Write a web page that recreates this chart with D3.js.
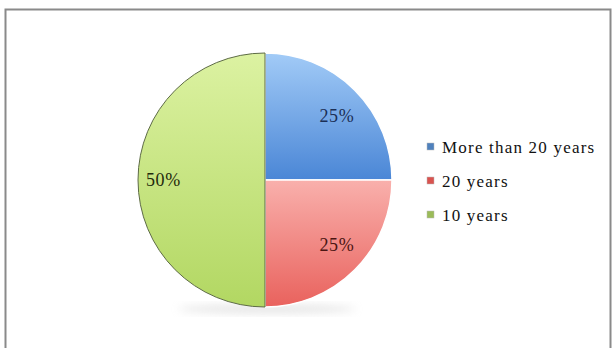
<!DOCTYPE html>
<html>
<head>
<meta charset="utf-8">
<script src="https://cdn.jsdelivr.net/npm/d3@7/dist/d3.min.js"></script>
<style>
  html, body { margin: 0; padding: 0; background: #fff; }
  svg { display: block; }
</style>
</head>
<body>
<svg id="chart" width="612" height="348"></svg>
<script>
// Share of respondents by length of service
const categories = ["More than 20 years", "20 years", "10 years"];
const values = [25, 25, 50];
const labels = ["25%", "25%", "50%"];

const fillTop = ["#a2cbf7", "#f9b0ac", "#dcf2a2"];
const fillBottom = ["#4a86d6", "#e9625d", "#b2d762"];
const labelColors = ["#1b2f56", "#4a1512", "#1f2a0c"];
const strokeColors = ["#ffffff", "#ffffff", "#5d6b45"];
const legendColors = ["#4f81bd", "#d9534f", "#9bbb59"];

const serif = "'Liberation Serif', 'Times New Roman', 'DejaVu Serif', serif";

const svg = d3.select("#chart");

// outer frame
svg.append("rect")
  .attr("x", 5.5).attr("y", 9.5)
  .attr("width", 605).attr("height", 345)
  .attr("fill", "#fff")
  .attr("stroke", "#8a8a8a").attr("stroke-width", 2);

const defs = svg.append("defs");
categories.forEach((c, i) => {
  const g = defs.append("linearGradient")
    .attr("id", "grad" + i)
    .attr("x1", 0).attr("y1", 0).attr("x2", 0).attr("y2", 1);
  g.append("stop").attr("offset", "0%").attr("stop-color", fillTop[i]);
  g.append("stop").attr("offset", "100%").attr("stop-color", fillBottom[i]);
});
const shadow = defs.append("filter").attr("id", "soft")
  .attr("x", "-50%").attr("y", "-50%").attr("width", "200%").attr("height", "200%");
shadow.append("feGaussianBlur").attr("stdDeviation", 4);

const cx = 265, cy = 180, r = 127;

const pie = d3.pie().sort(null).value(d => d.value);
const arcs = pie(categories.map((c, i) => ({ name: c, value: values[i], idx: i })));
const arc = d3.arc().innerRadius(0).outerRadius(r);

// labels sit on an ellipse inside the pie (wider horizontally)
const labelRx = r * 0.8, labelRy = r * 0.72;
const labelPos = d => {
  const a = (d.startAngle + d.endAngle) / 2;
  return [Math.sin(a) * labelRx, -Math.cos(a) * labelRy];
};

const g = svg.append("g").attr("transform", `translate(${cx},${cy})`);

// soft drop shadow under the pie
g.append("ellipse")
  .attr("cx", 2).attr("cy", r + 2)
  .attr("rx", r * 0.7).attr("ry", 4)
  .attr("fill", "#c8c8c8").attr("opacity", 0.5)
  .attr("filter", "url(#soft)");

g.selectAll("path.slice")
  .data(arcs)
  .join("path")
  .attr("class", "slice")
  .attr("d", arc)
  .attr("fill", d => `url(#grad${d.data.idx})`)
  .attr("stroke", d => strokeColors[d.data.idx])
  .attr("stroke-width", d => d.data.idx === 2 ? 1 : 1.5);

g.selectAll("text.lbl")
  .data(arcs)
  .join("text")
  .attr("class", "lbl")
  .attr("transform", d => `translate(${labelPos(d)})`)
  .attr("text-anchor", "middle")
  .attr("dy", "0.35em")
  .attr("font-family", serif)
  .attr("font-size", 18)
  .attr("letter-spacing", 0.6)
  .attr("fill", d => labelColors[d.data.idx])
  .text(d => labels[d.data.idx]);

// legend
const legend = svg.append("g").attr("transform", "translate(427,147)");
const item = legend.selectAll("g.item")
  .data(categories)
  .join("g")
  .attr("class", "item")
  .attr("transform", (d, i) => `translate(0,${i * 34})`);
item.append("rect")
  .attr("x", 0).attr("y", -4)
  .attr("width", 7).attr("height", 7)
  .attr("fill", (d, i) => legendColors[i])
  .attr("stroke", "#bbb").attr("stroke-width", 0.5);
item.append("text")
  .attr("x", 15).attr("y", 0)
  .attr("dy", "0.35em")
  .attr("font-family", serif)
  .attr("font-size", 17)
  .attr("letter-spacing", 1.2)
  .attr("fill", "#111")
  .text(d => d);
</script>
</body>
</html>
